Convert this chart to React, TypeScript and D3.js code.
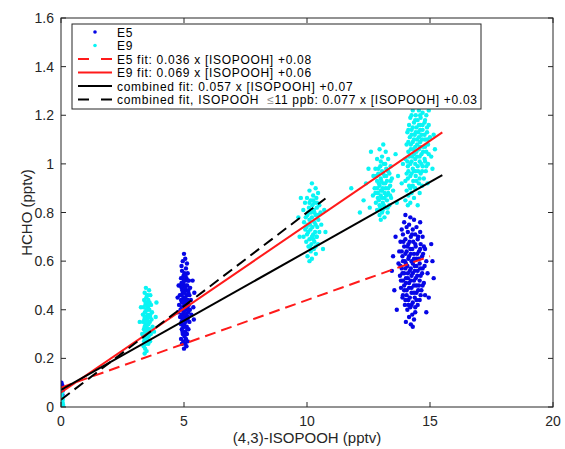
import React from "react";
import * as d3 from "d3";

const W = 565;
const H = 449;

const xTicks = [0, 5, 10, 15, 20];
const yTicks = [0, 0.2, 0.4, 0.6, 0.8, 1, 1.2, 1.4, 1.6];
const xLabel = "(4,3)-ISOPOOH (pptv)";
const yLabel = "HCHO (pptv)";

// E5 observations (blue)
const e5Zero: [number, number][] = [[0.02,0.1],[0.05,0.09],[0.0,0.08],[0.08,0.07],[0.03,0.06],[0.06,0.05],[0.01,0.095]];
const e5Five: [number, number][] = [
[5.0,0.63],[5.05,0.61],[4.95,0.6],[5.12,0.59],[4.9,0.58],[5.08,0.57],
[4.92,0.56],[5.02,0.55],[5.15,0.55],[4.98,0.54],[5.1,0.53],[4.88,0.53],[5.2,0.52],[5.04,0.52],[4.96,0.51],[5.13,0.5],[4.85,0.5],[5.0,0.5],[5.25,0.49],
[4.9,0.49],[5.07,0.48],[5.17,0.48],[4.95,0.47],[5.02,0.47],[5.22,0.46],[4.83,0.46],[5.11,0.46],[4.98,0.45],[5.05,0.45],[5.15,0.44],[4.88,0.44],[5.28,0.44],[5.0,0.44],
[4.92,0.43],[5.09,0.43],[5.19,0.42],[4.8,0.42],[5.03,0.42],[4.96,0.41],[5.13,0.41],[5.24,0.4],[4.86,0.4],[5.06,0.4],[4.99,0.39],[5.17,0.39],[4.9,0.38],[5.1,0.38],[5.3,0.38],[5.01,0.37],
[4.84,0.37],[5.14,0.36],[4.94,0.36],[5.06,0.35],[5.22,0.35],[4.88,0.34],[5.0,0.34],[5.11,0.33],[4.97,0.33],[5.18,0.32],[4.91,0.32],[5.04,0.31],
[5.12,0.3],[4.95,0.3],[5.02,0.29],[4.88,0.28],[5.08,0.28],[5.15,0.27],[4.98,0.27],[5.05,0.26],[4.92,0.26],[5.1,0.25],[5.0,0.24],
[4.74,0.45],[5.42,0.47],[5.38,0.41],[4.76,0.39],[5.35,0.52],[4.78,0.5],[5.4,0.36]
];
const e5FiveCore: [number, number][] = [
[5.06,0.54],[4.94,0.53],[5.15,0.52],[5.0,0.52],[4.9,0.51],[5.08,0.5],[5.18,0.47],[4.93,0.48],[5.04,0.49],[4.9,0.46],[5.12,0.44],[5.06,0.43],[4.96,0.43],[5.18,0.4],[5.0,0.4],[4.92,0.41],[5.08,0.36],[5.03,0.38],[4.96,0.37],[5.16,0.37],[4.9,0.35],[5.02,0.33],[5.14,0.32],[4.94,0.31],[5.06,0.3]
];
const e5Fourteen: [number, number][] = [
[14.0,0.79],[14.2,0.78],[14.35,0.77],[13.95,0.76],[14.15,0.75],[14.45,0.74],[14.05,0.74],[13.85,0.73],[14.3,0.73],[14.6,0.72],[14.1,0.72],[14.4,0.71],[13.9,0.71],[14.22,0.7],[14.7,0.7],[14.0,0.69],[14.5,0.69],[13.8,0.68],[14.32,0.68],[14.12,0.67],[14.62,0.67],[13.95,0.66],[14.42,0.66],[14.8,0.65],[14.2,0.65],[13.75,0.64],[14.05,0.64],[14.55,0.64],[14.35,0.63],[13.88,0.62],[14.68,0.62],[14.15,0.62],[14.45,0.61],[13.98,0.6],[14.25,0.6],[14.85,0.6],[13.72,0.59],[14.58,0.59],[14.08,0.58],[14.38,0.58],[13.85,0.57],[14.7,0.57],[14.18,0.56],[14.5,0.56],[13.95,0.55],[14.3,0.55],[14.9,0.55],[13.78,0.54],[14.62,0.54],[14.1,0.53],[14.42,0.53],[13.9,0.52],[14.22,0.52],[14.75,0.51],[14.02,0.51],[14.55,0.5],[14.35,0.5],[13.82,0.49],[14.15,0.49],[14.65,0.48],[13.95,0.48],[14.45,0.47],[14.25,0.47],[14.05,0.46],[14.8,0.46],[13.88,0.45],[14.38,0.45],[14.58,0.44],[14.12,0.44],[14.3,0.43],[13.98,0.42],[14.5,0.42],[14.2,0.41],[14.08,0.4],[14.4,0.39],[14.28,0.38],[14.15,0.37],[14.35,0.36],[14.02,0.35],[14.22,0.34],[14.3,0.33],
[13.45,0.56],[13.5,0.62],[15.1,0.6],[15.15,0.53],[15.05,0.67],[13.55,0.48],[14.95,0.45],[13.6,0.7],[14.6,0.76],[13.65,0.4],[14.85,0.39]
];
const e5FourteenCore: [number, number][] = [
[14.27,0.71],[14.52,0.7],[13.92,0.68],[14.17,0.68],[14.4,0.67],[14.75,0.66],[14.08,0.66],[14.28,0.65],[14.6,0.65],[13.85,0.64],[14.48,0.63],[14.0,0.63],[14.22,0.63],[14.72,0.63],[14.35,0.61],[14.12,0.61],[13.9,0.6],[14.55,0.61],[14.02,0.59],[14.3,0.59],[14.78,0.58],[14.45,0.58],[13.8,0.58],[14.22,0.57],[14.6,0.57],[14.0,0.57],[14.38,0.56],[14.1,0.55],[14.68,0.55],[13.88,0.55],[14.48,0.54],[14.25,0.54],[14.02,0.53],[14.58,0.52],[14.35,0.52],[13.82,0.52],[14.15,0.51],[14.45,0.5],[14.7,0.5],[13.95,0.5],[14.25,0.49],[14.52,0.48],[14.05,0.48],[14.35,0.47],[13.9,0.46],[14.62,0.46],[14.18,0.45],[14.45,0.44],[14.0,0.44],[14.25,0.42],[14.4,0.41],[14.12,0.42]
];

// E9 observations (cyan)
const e9Zero: [number, number][] = [[0.0,0.0],[0.03,0.01],[0.06,0.02],[0.01,0.03],[0.04,0.04],[0.08,0.01],[0.02,0.05],[0.05,0.06],[0.0,0.07],[0.07,0.03],[0.1,0.0],[0.03,0.02]];
const e9ThreeHalf: [number, number][] = [
[3.45,0.49],[3.58,0.48],[3.4,0.47],[3.52,0.46],[3.63,0.46],[3.47,0.45],[3.55,0.44],[3.38,0.44],[3.6,0.43],[3.5,0.43],[3.43,0.42],[3.66,0.42],[3.53,0.41],[3.36,0.41],[3.47,0.4],[3.59,0.4],[3.7,0.39],[3.41,0.39],[3.52,0.38],[3.33,0.38],[3.63,0.38],[3.45,0.37],[3.56,0.37],[3.39,0.36],[3.68,0.36],[3.5,0.36],[3.61,0.35],[3.34,0.35],[3.44,0.34],[3.55,0.34],[3.72,0.33],[3.48,0.33],[3.37,0.32],[3.6,0.32],[3.52,0.31],[3.42,0.31],[3.65,0.3],[3.46,0.3],[3.35,0.29],[3.56,0.29],[3.4,0.28],[3.5,0.28],[3.62,0.27],[3.38,0.27],[3.45,0.26],[3.55,0.26],[3.36,0.25],[3.42,0.24],[3.48,0.23],[3.4,0.22],
[3.2,0.35],[3.85,0.37],[3.78,0.31],[3.25,0.41],[3.88,0.43],[3.3,0.3],
[3.5,0.46],[3.44,0.43],[3.56,0.42],[3.4,0.37],[3.5,0.4],[3.62,0.37],[3.46,0.35],[3.54,0.32],[3.4,0.33],[3.58,0.3],[3.44,0.29],[3.52,0.27]
];
const e9Ten: [number, number][] = [
[10.2,0.92],[10.35,0.9],[10.1,0.89],[10.45,0.88],[10.25,0.87],[10.0,0.86],[10.38,0.86],[10.15,0.85],[10.3,0.84],[9.92,0.84],[10.5,0.83],[10.22,0.83],[10.08,0.82],[10.4,0.82],[9.85,0.81],[10.28,0.81],[10.16,0.8],[10.55,0.8],[10.02,0.79],[10.35,0.79],[9.95,0.78],[10.2,0.78],[10.46,0.77],[10.1,0.77],[9.88,0.76],[10.3,0.76],[10.58,0.75],[10.04,0.75],[10.22,0.74],[10.42,0.74],[9.93,0.73],[10.14,0.73],[10.33,0.72],[10.5,0.72],[10.0,0.71],[10.25,0.71],[9.86,0.7],[10.4,0.7],[10.1,0.69],[10.3,0.68],[9.97,0.68],[10.18,0.67],[10.45,0.67],[10.06,0.66],[10.28,0.65],[10.15,0.64],[10.36,0.63],[10.02,0.62],[10.2,0.61],[10.1,0.6],
[9.65,0.78],[10.75,0.72],[9.7,0.7],[10.7,0.81],[9.75,0.86],[10.65,0.65],
[10.1,0.84],[10.25,0.85],[10.4,0.84],[10.05,0.8],[10.3,0.8],[10.45,0.79],[10.12,0.75],[10.35,0.75],[9.98,0.74],[10.25,0.69],[10.05,0.72],[10.38,0.7],[10.2,0.7],[10.12,0.66],[10.35,0.66]
];
const e9Thirteen: [number, number][] = [
[13.1,1.08],[12.95,1.06],[13.2,1.05],[13.05,1.03],[12.85,1.02],[13.3,1.02],[13.12,1.0],[12.98,0.99],[13.4,0.99],[12.78,0.98],[13.22,0.98],[13.05,0.97],[12.9,0.96],[13.35,0.96],[13.15,0.95],[12.7,0.95],[13.0,0.94],[13.45,0.94],[13.25,0.93],[12.85,0.93],[13.1,0.92],[12.95,0.91],[13.38,0.91],[12.75,0.9],[13.2,0.9],[13.05,0.89],[13.5,0.89],[12.88,0.88],[13.3,0.88],[13.0,0.87],[12.68,0.87],[13.15,0.86],[13.42,0.86],[12.92,0.85],[13.25,0.85],[12.8,0.84],[13.08,0.84],[13.35,0.83],[12.98,0.82],[13.18,0.82],[12.85,0.81],[13.28,0.8],[13.05,0.8],[12.95,0.79],[13.15,0.78],[13.0,0.77],
[12.4,0.92],[12.3,0.85],[12.5,0.98],[13.7,0.95],[13.65,0.84],[12.55,0.82],[11.8,0.9],[12.15,0.8],[13.6,1.04],[12.6,1.05],
[13.0,1.01],[13.18,1.0],[12.9,0.98],[13.3,0.97],[13.1,0.96],[12.82,0.95],[13.22,0.95],[13.02,0.93],[13.4,0.93],[12.92,0.92],[13.18,0.92],[13.3,0.9],[13.08,0.9],[12.85,0.9],[13.0,0.89],[13.15,0.88],[12.78,0.88],[13.38,0.87],[13.05,0.86],[12.88,0.86],[13.22,0.87],[12.95,0.83],[13.12,0.83],[13.28,0.82],[13.08,0.81]
];
const e9Fifteen: [number, number][] = [
[14.3,1.22],[14.55,1.22],[14.7,1.21],[14.42,1.2],[14.85,1.2],[14.2,1.19],[14.62,1.19],[14.5,1.18],[14.35,1.17],[14.78,1.17],[14.95,1.16],[14.15,1.16],[14.6,1.16],[14.45,1.15],[14.25,1.14],[14.7,1.14],[14.88,1.13],[14.08,1.13],[14.52,1.13],[14.38,1.12],[14.65,1.12],[15.0,1.11],[14.18,1.11],[14.8,1.1],[14.48,1.1],[14.3,1.09],[14.6,1.09],[14.05,1.08],[14.92,1.08],[14.72,1.07],[14.4,1.07],[14.22,1.06],[14.55,1.06],[14.85,1.05],[14.12,1.05],[14.65,1.04],[14.35,1.04],[15.05,1.03],[14.48,1.03],[14.0,1.02],[14.78,1.02],[14.25,1.01],[14.58,1.01],[14.92,1.0],[14.4,1.0],[14.1,0.99],[14.7,0.99],[14.3,0.98],[14.52,0.97],[14.83,0.97],[14.05,0.96],[14.62,0.96],[14.2,0.95],[14.42,0.95],[14.75,0.94],[14.0,0.93],[14.32,0.93],[14.55,0.92],[14.15,0.91],[14.68,0.91],[14.4,0.9],[14.05,0.89],[14.25,0.88],[14.58,0.88],[14.12,0.87],[14.35,0.86],[14.0,0.85],[14.2,0.84],[14.1,0.83],
[15.15,1.12],[15.2,1.06],[13.9,1.0],[13.85,0.92],[14.9,0.92],[15.1,0.98],[14.5,0.83],[14.2,1.24],[14.95,1.22]
];
const e9FifteenCore: [number, number][] = [
[14.25,1.2],[14.6,1.2],[14.8,1.18],[14.4,1.18],[14.55,1.16],[14.3,1.15],[14.88,1.15],[14.7,1.16],[14.12,1.14],[14.6,1.14],[14.42,1.13],[14.78,1.12],[14.25,1.12],[14.55,1.11],[14.9,1.1],[14.35,1.1],[14.12,1.09],[14.68,1.1],[14.48,1.08],[14.22,1.08],[14.8,1.07],[14.6,1.07],[14.32,1.06],[14.15,1.03],[14.72,1.05],[14.45,1.05],[14.95,1.04],[14.28,1.03],[14.58,1.03],[14.08,1.01],[14.8,1.01],[14.4,1.02],[14.65,1.0],[14.2,1.0],[14.5,0.99],[14.85,0.99],[14.35,0.97],[14.12,0.97],[14.68,0.97],[14.42,0.97],[14.25,0.96],[14.58,0.94],[14.1,0.94],[14.45,0.93],[14.3,0.91],[14.2,0.9]
];

// Fit lines: slope, intercept, x range
const fitSlopes = [0.036, 0.069, 0.057, 0.077];
const fitIntercepts = [0.08, 0.06, 0.07, 0.03];
const fitXEnd = [15.0, 15.5, 15.5, 10.75];
const fitColors = ["#ff1a1a", "#ff1a1a", "#000000", "#000000"];
const fitDashed = [true, false, false, true];

const legendLabels = [
  "E5",
  "E9",
  "E5 fit: 0.036 x [ISOPOOH] +0.08",
  "E9 fit: 0.069 x [ISOPOOH] +0.06",
  "combined fit: 0.057 x [ISOPOOH] +0.07",
  "combined fit, ISOPOOH\u00a0\u00a0\u226411 ppb: 0.077 x [ISOPOOH] +0.03",
];

const E5_COLOR = "#0606e6";
const E9_COLOR = "#0af4f4";

export default function App() {
  const left = 61, right = 553, top = 18, bottom = 407;
  const x = d3.scaleLinear().domain([0, 20]).range([left, right]);
  const y = d3.scaleLinear().domain([0, 1.6]).range([bottom, top]);
  const axisColor = "#262626";
  const font = "'Liberation Sans', Arial, Helvetica, sans-serif";
  const line = d3.line<[number, number]>().x((d) => x(d[0])).y((d) => y(d[1]));

  const e5 = [...e5Zero, ...e5Five, ...e5FiveCore, ...e5Fourteen, ...e5FourteenCore];
  const e9 = [...e9Zero, ...e9ThreeHalf, ...e9Ten, ...e9Thirteen, ...e9Fifteen, ...e9FifteenCore];
  const r = 2.2;
  const tick = 5;

  const lg = { x: 72, y: 24, w: 409, h: 85 };
  const rowY = (i: number) => 32 + i * 13.5;

  const renderLabel = (t: string) => {
    const k = t.indexOf("\u2264");
    if (k < 0) return t;
    return (
      <>
        {t.slice(0, k)}
        <tspan fill="#8a8a8a">{"\u2264"}</tspan>
        {t.slice(k + 1)}
      </>
    );
  };

  return (
    <svg width={W} height={H} style={{ position: "absolute", left: 0, top: 0, background: "#fff" }} fontFamily={font}>
      <rect x={0} y={0} width={W} height={H} fill="#fff" />
      <defs>
        <clipPath id="plotclip">
          <rect x={left} y={top} width={right - left} height={bottom - top} />
        </clipPath>
      </defs>
      <g clipPath="url(#plotclip)">
        {e5.map((d, i) => (
          <circle key={"a" + i} cx={x(d[0])} cy={y(d[1])} r={r} fill={E5_COLOR} />
        ))}
        {e9.map((d, i) => (
          <circle key={"b" + i} cx={x(d[0])} cy={y(d[1])} r={r} fill={E9_COLOR} />
        ))}
        {fitSlopes.map((s, i) => (
          <path
            key={"f" + i}
            d={line([[0, fitIntercepts[i]], [fitXEnd[i], fitIntercepts[i] + s * fitXEnd[i]]]) || ""}
            stroke={fitColors[i]}
            strokeWidth={2}
            fill="none"
            strokeDasharray={fitDashed[i] ? "11,6" : undefined}
          />
        ))}
      </g>
      <rect x={left} y={top} width={right - left} height={bottom - top} fill="none" stroke={axisColor} strokeWidth={1} />
      {xTicks.map((t) => (
        <g key={"xt" + t}>
          <line x1={x(t)} x2={x(t)} y1={bottom} y2={bottom - tick} stroke={axisColor} />
          <line x1={x(t)} x2={x(t)} y1={top} y2={top + tick} stroke={axisColor} />
          <text x={x(t)} y={bottom + 19} textAnchor="middle" fontSize={14} fill={axisColor}>{t}</text>
        </g>
      ))}
      {yTicks.map((t) => (
        <g key={"yt" + t}>
          <line x1={left} x2={left + tick} y1={y(t)} y2={y(t)} stroke={axisColor} />
          <line x1={right} x2={right - tick} y1={y(t)} y2={y(t)} stroke={axisColor} />
          <text x={left - 7} y={y(t) + 5} textAnchor="end" fontSize={14} fill={axisColor}>{String(t)}</text>
        </g>
      ))}
      <text x={(left + right) / 2} y={443} textAnchor="middle" fontSize={15} fill={axisColor}>{xLabel}</text>
      <text transform={`translate(32,${(top + bottom) / 2}) rotate(-90)`} textAnchor="middle" fontSize={15} fill={axisColor}>{yLabel}</text>

      <rect x={lg.x} y={lg.y} width={lg.w} height={lg.h} fill="#fff" stroke={axisColor} strokeWidth={1} />
      <circle cx={95} cy={rowY(0)} r={1.8} fill={E5_COLOR} />
      <circle cx={95} cy={rowY(1)} r={1.8} fill={E9_COLOR} />
      {fitSlopes.map((_, i) => (
        <line
          key={"lg" + i}
          x1={78}
          x2={112}
          y1={rowY(i + 2)}
          y2={rowY(i + 2)}
          stroke={fitColors[i]}
          strokeWidth={2}
          strokeDasharray={fitDashed[i] ? "11,12" : undefined}
        />
      ))}
      {legendLabels.map((t, i) => (
        <text key={"lt" + i} x={117} y={rowY(i) + 4.5} fontSize={12} letterSpacing={0.7} fill="#000">{renderLabel(t)}</text>
      ))}
    </svg>
  );
}
